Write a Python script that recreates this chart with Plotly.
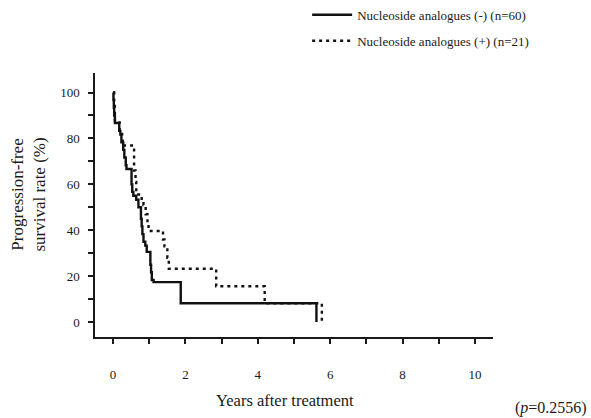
import plotly.graph_objects as go

# Kaplan-Meier step data
years_neg = [0, 0.01, 0.02, 0.03, 0.05, 0.17, 0.2, 0.23, 0.28, 0.31, 0.35, 0.37, 0.51, 0.53, 0.56, 0.64, 0.7,
             0.77, 0.79, 0.81, 0.84, 0.89, 0.93, 1.03, 1.05, 1.07, 1.12, 1.87, 5.62]
surv_neg = [100, 96.7, 93.3, 90, 86.7, 83.3, 81.7, 78.3, 75, 71.7, 68.3, 66.7, 60, 56.7, 55, 53.3, 50,
            45, 41.7, 38.3, 35, 33.3, 30.6, 25, 21.7, 18.3, 17.4, 8.2, 0]

years_pos = [0, 0.03, 0.05, 0.18, 0.25, 0.3, 0.58, 0.62, 0.64, 0.79, 0.84, 0.9, 0.95, 0.98, 1.38, 1.42,
             1.5, 1.54, 2.85, 4.19, 5.77]
surv_pos = [100, 95.2, 87, 82, 79, 76.9, 66, 61, 55.6, 53, 51, 47, 43, 39.7, 36, 33,
            28, 23.2, 15.6, 8.2, 0]

label_neg = "Nucleoside analogues (-) (n=60)"
label_pos = "Nucleoside analogues (+) (n=21)"

x_ticks = [0, 1, 2, 3, 4, 5, 6, 7, 8, 9, 10]
x_ticklabels = ["0", "", "2", "", "4", "", "6", "", "8", "", "10"]
y_ticks = [0, 10, 20, 30, 40, 50, 60, 70, 80, 90, 100]
y_ticklabels = ["0", "", "20", "", "40", "", "60", "", "80", "", "100"]

FONT = "Liberation Serif, Times New Roman, serif"
INK = "#1a1a1a"

fig = go.Figure()
fig.add_trace(go.Scatter(x=years_neg, y=surv_neg, mode="lines", line_shape="hv", legendgroup="a",
                         line=dict(color="#111", width=2.4), name=label_neg))
fig.add_trace(go.Scatter(x=years_pos, y=surv_pos, mode="lines", line_shape="hv", legendgroup="b",
                         line=dict(color="#111", width=2.4, dash="3px,4px"), name=label_pos))

fig.update_layout(
    width=591, height=418,
    margin=dict(l=95, r=98, t=73, b=81, autoexpand=False),
    paper_bgcolor="white", plot_bgcolor="white",
    font=dict(family=FONT, size=12, color=INK),
    showlegend=True,
    legend=dict(x=0.533, y=1.277, xanchor="left", yanchor="top",
                font=dict(family=FONT, size=13, color=INK),
                bgcolor="rgba(0,0,0,0)", tracegroupgap=6, itemwidth=40),
    xaxis=dict(range=[-0.5, 10.5], tickmode="array", tickvals=x_ticks, ticktext=x_ticklabels,
               ticks="outside", ticklen=5, tickwidth=1.5, tickcolor=INK,
               showline=True, linecolor=INK, linewidth=1.5, showgrid=False, zeroline=False,
               ticklabelstandoff=20, tickfont=dict(size=13, color=INK)),
    yaxis=dict(range=[-6.5, 108.5], tickmode="array", tickvals=y_ticks, ticktext=y_ticklabels,
               ticks="outside", ticklen=5, tickwidth=1.5, tickcolor=INK,
               showline=True, linecolor=INK, linewidth=1.5, showgrid=False, zeroline=False,
               ticklabelstandoff=6, tickfont=dict(size=13, color=INK)),
)

fig.add_annotation(text="Years after treatment", xref="paper", yref="paper",
                   x=0.477, y=-0.239, xanchor="center", yanchor="middle", showarrow=False,
                   font=dict(size=16.5, color=INK))
fig.add_annotation(text="(<i>p</i>=0.2556)", xref="paper", yref="paper",
                   x=1.241, y=-0.269, xanchor="right", yanchor="middle", showarrow=False,
                   font=dict(size=16, color=INK))
fig.add_annotation(text="Progression-free<br>survival rate (%)", xref="paper", yref="paper",
                   x=-0.168, y=0.54, xanchor="center", yanchor="middle", showarrow=False,
                   textangle=-90, font=dict(size=17, color=INK))

fig.write_html("out.html")
